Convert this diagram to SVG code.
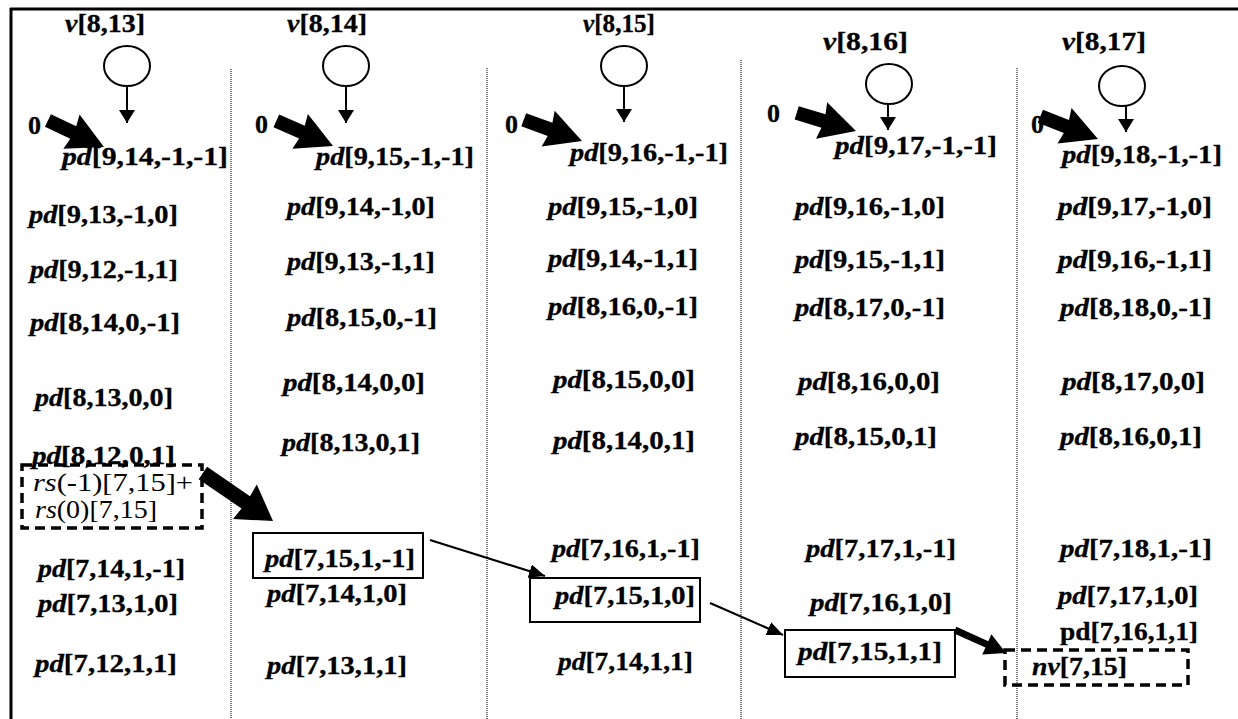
<svg xmlns="http://www.w3.org/2000/svg" xmlns:xlink="http://www.w3.org/1999/xlink" width="1238" height="719" viewBox="0 0 1238 719">
  <style>
    .t { font-family: "Liberation Serif", "Times New Roman", serif; font-size: 26px; font-weight: bold; fill: #000; stroke: #000; stroke-width: 0.3; }
    .i { font-style: italic; }
    .n { font-weight: normal; stroke-width: 0; }
    .sep { stroke: #777; stroke-width: 2; stroke-dasharray: 1 1; fill: none; }
    .frame { stroke: #000; stroke-width: 3; fill: none; }
    .node { fill: none; stroke: #000; stroke-width: 2; }
    .dash { fill: none; stroke: #000; stroke-width: 3.5; stroke-dasharray: 10 6; }
    .down { stroke: #000; stroke-width: 2; fill: none; marker-end: url(#tipDown); }
    .thin { stroke: #000; stroke-width: 2.2; fill: none; marker-end: url(#tip); }
    .fat { fill: #000; }
  </style>
  <defs>
    <marker id="tipDown" markerUnits="userSpaceOnUse" markerWidth="13" markerHeight="16" viewBox="0 0 13 16" refX="13" refY="8" orient="auto">
      <path d="M0,0 L13,8 L0,16 Z" fill="#000"/>
    </marker>
    <marker id="tip" markerUnits="userSpaceOnUse" markerWidth="16" markerHeight="14" viewBox="0 0 16 14" refX="16" refY="7" orient="auto">
      <path d="M0,0 L16,7 L0,14 Z" fill="#000"/>
    </marker>
    <!-- broad arrow pointing along +x, tip at the origin -->
    <path id="fatArrow" d="M-62,-7 L-34,-7 L-36,-19 L0,0 L-36,19 L-34,7 L-62,7 Z"/>
  </defs>

  <rect width="1238" height="719" fill="#fff"/>

  <!-- frame -->
  <path class="frame" d="M10,9 H1238 M11,8 V719"/>

  <!-- column separators -->
  <g id="separators">
    <line class="sep" x1="231" y1="69" x2="231" y2="719"/>
    <line class="sep" x1="487" y1="68" x2="487" y2="719"/>
    <line class="sep" x1="741" y1="60" x2="741" y2="719"/>
    <line class="sep" x1="1017" y1="68" x2="1017" y2="719"/>
  </g>

  <!-- column v[8,13] -->
  <g id="v8_13">
    <text class="t" x="65" y="32" textLength="80" lengthAdjust="spacingAndGlyphs"><tspan class="i">v</tspan>[8,13]</text>
    <ellipse class="node" cx="127" cy="66" rx="23" ry="20"/>
  </g>
  <g id="col13">
    <text class="t" x="28" y="134">0</text>
    <text class="t" x="62" y="165" textLength="166" lengthAdjust="spacingAndGlyphs"><tspan class="i">pd</tspan>[9,14,-1,-1]</text>
    <text class="t" x="29" y="223" textLength="149" lengthAdjust="spacingAndGlyphs"><tspan class="i">pd</tspan>[9,13,-1,0]</text>
    <text class="t" x="30" y="278" textLength="148" lengthAdjust="spacingAndGlyphs"><tspan class="i">pd</tspan>[9,12,-1,1]</text>
    <text class="t" x="30" y="331" textLength="150" lengthAdjust="spacingAndGlyphs"><tspan class="i">pd</tspan>[8,14,0,-1]</text>
    <text class="t" x="35" y="406" textLength="138" lengthAdjust="spacingAndGlyphs"><tspan class="i">pd</tspan>[8,13,0,0]</text>
    <text class="t" x="32" y="464" textLength="143" lengthAdjust="spacingAndGlyphs"><tspan class="i">pd</tspan>[8,12,0,1]</text>
    <text class="t" x="38" y="577" textLength="147" lengthAdjust="spacingAndGlyphs"><tspan class="i">pd</tspan>[7,14,1,-1]</text>
    <text class="t" x="38" y="612" textLength="140" lengthAdjust="spacingAndGlyphs"><tspan class="i">pd</tspan>[7,13,1,0]</text>
    <text class="t" x="35" y="672" textLength="142" lengthAdjust="spacingAndGlyphs"><tspan class="i">pd</tspan>[7,12,1,1]</text>
  </g>
  <g id="rsSum">
    <rect x="22" y="465" width="180" height="63" fill="#fff" class="dash"/>
    <text class="t n" x="33" y="491" textLength="160" lengthAdjust="spacingAndGlyphs"><tspan class="i">rs</tspan>(-1)[7,15]+</text>
    <text class="t n" x="35" y="518" textLength="122" lengthAdjust="spacingAndGlyphs"><tspan class="i">rs</tspan>(0)[7,15]</text>
  </g>

  <!-- column v[8,14] -->
  <g id="v8_14">
    <text class="t" x="287" y="32" textLength="80" lengthAdjust="spacingAndGlyphs"><tspan class="i">v</tspan>[8,14]</text>
    <ellipse class="node" cx="346" cy="66" rx="23" ry="20"/>
  </g>
  <g id="col14">
    <text class="t" x="255" y="133">0</text>
    <text class="t" x="316" y="165" textLength="158" lengthAdjust="spacingAndGlyphs"><tspan class="i">pd</tspan>[9,15,-1,-1]</text>
    <text class="t" x="287" y="215" textLength="148" lengthAdjust="spacingAndGlyphs"><tspan class="i">pd</tspan>[9,14,-1,0]</text>
    <text class="t" x="287" y="270" textLength="148" lengthAdjust="spacingAndGlyphs"><tspan class="i">pd</tspan>[9,13,-1,1]</text>
    <text class="t" x="287" y="326" textLength="150" lengthAdjust="spacingAndGlyphs"><tspan class="i">pd</tspan>[8,15,0,-1]</text>
    <text class="t" x="283" y="391" textLength="142" lengthAdjust="spacingAndGlyphs"><tspan class="i">pd</tspan>[8,14,0,0]</text>
    <text class="t" x="282" y="451" textLength="138" lengthAdjust="spacingAndGlyphs"><tspan class="i">pd</tspan>[8,13,0,1]</text>
    <text class="t" x="267" y="602" textLength="140" lengthAdjust="spacingAndGlyphs"><tspan class="i">pd</tspan>[7,14,1,0]</text>
    <text class="t" x="267" y="674" textLength="140" lengthAdjust="spacingAndGlyphs"><tspan class="i">pd</tspan>[7,13,1,1]</text>
  </g>
  <g id="pd7_15_1_m1">
    <rect class="node" x="253" y="533" width="170" height="45"/>
    <text class="t" x="265" y="567" textLength="150" lengthAdjust="spacingAndGlyphs"><tspan class="i">pd</tspan>[7,15,1,-1]</text>
  </g>

  <!-- column v[8,15] -->
  <g id="v8_15">
    <text class="t" x="583" y="32" textLength="72" lengthAdjust="spacingAndGlyphs"><tspan class="i">v</tspan>[8,15]</text>
    <ellipse class="node" cx="624" cy="66" rx="23" ry="20"/>
  </g>
  <g id="col15">
    <text class="t" x="505" y="133">0</text>
    <text class="t" x="570" y="161" textLength="158" lengthAdjust="spacingAndGlyphs"><tspan class="i">pd</tspan>[9,16,-1,-1]</text>
    <text class="t" x="548" y="215" textLength="150" lengthAdjust="spacingAndGlyphs"><tspan class="i">pd</tspan>[9,15,-1,0]</text>
    <text class="t" x="548" y="267" textLength="150" lengthAdjust="spacingAndGlyphs"><tspan class="i">pd</tspan>[9,14,-1,1]</text>
    <text class="t" x="548" y="315" textLength="150" lengthAdjust="spacingAndGlyphs"><tspan class="i">pd</tspan>[8,16,0,-1]</text>
    <text class="t" x="553" y="388" textLength="142" lengthAdjust="spacingAndGlyphs"><tspan class="i">pd</tspan>[8,15,0,0]</text>
    <text class="t" x="553" y="449" textLength="142" lengthAdjust="spacingAndGlyphs"><tspan class="i">pd</tspan>[8,14,0,1]</text>
    <text class="t" x="552" y="557" textLength="148" lengthAdjust="spacingAndGlyphs"><tspan class="i">pd</tspan>[7,16,1,-1]</text>
    <text class="t" x="558" y="670" textLength="135" lengthAdjust="spacingAndGlyphs"><tspan class="i">pd</tspan>[7,14,1,1]</text>
  </g>
  <g id="pd7_15_1_0">
    <rect class="node" x="530" y="578" width="170" height="44"/>
    <text class="t" x="555" y="604" textLength="140" lengthAdjust="spacingAndGlyphs"><tspan class="i">pd</tspan>[7,15,1,0]</text>
  </g>

  <!-- column v[8,16] -->
  <g id="v8_16">
    <text class="t" x="823" y="50" textLength="85" lengthAdjust="spacingAndGlyphs"><tspan class="i">v</tspan>[8,16]</text>
    <ellipse class="node" cx="889" cy="84" rx="23" ry="20"/>
  </g>
  <g id="col16">
    <text class="t" x="767" y="122">0</text>
    <text class="t" x="835" y="154" textLength="162" lengthAdjust="spacingAndGlyphs"><tspan class="i">pd</tspan>[9,17,-1,-1]</text>
    <text class="t" x="795" y="215" textLength="150" lengthAdjust="spacingAndGlyphs"><tspan class="i">pd</tspan>[9,16,-1,0]</text>
    <text class="t" x="795" y="268" textLength="150" lengthAdjust="spacingAndGlyphs"><tspan class="i">pd</tspan>[9,15,-1,1]</text>
    <text class="t" x="795" y="316" textLength="150" lengthAdjust="spacingAndGlyphs"><tspan class="i">pd</tspan>[8,17,0,-1]</text>
    <text class="t" x="798" y="390" textLength="142" lengthAdjust="spacingAndGlyphs"><tspan class="i">pd</tspan>[8,16,0,0]</text>
    <text class="t" x="795" y="445" textLength="142" lengthAdjust="spacingAndGlyphs"><tspan class="i">pd</tspan>[8,15,0,1]</text>
    <text class="t" x="806" y="557" textLength="150" lengthAdjust="spacingAndGlyphs"><tspan class="i">pd</tspan>[7,17,1,-1]</text>
    <text class="t" x="810" y="611" textLength="142" lengthAdjust="spacingAndGlyphs"><tspan class="i">pd</tspan>[7,16,1,0]</text>
  </g>
  <g id="pd7_15_1_1">
    <rect class="node" x="785" y="630" width="170" height="47"/>
    <text class="t" x="798" y="660" textLength="144" lengthAdjust="spacingAndGlyphs"><tspan class="i">pd</tspan>[7,15,1,1]</text>
  </g>

  <!-- column v[8,17] -->
  <g id="v8_17">
    <text class="t" x="1062" y="50" textLength="84" lengthAdjust="spacingAndGlyphs"><tspan class="i">v</tspan>[8,17]</text>
    <ellipse class="node" cx="1122" cy="86" rx="23" ry="20"/>
  </g>
  <g id="col17">
    <text class="t" x="1031" y="133">0</text>
    <text class="t" x="1062" y="163" textLength="160" lengthAdjust="spacingAndGlyphs"><tspan class="i">pd</tspan>[9,18,-1,-1]</text>
    <text class="t" x="1058" y="215" textLength="154" lengthAdjust="spacingAndGlyphs"><tspan class="i">pd</tspan>[9,17,-1,0]</text>
    <text class="t" x="1058" y="268" textLength="154" lengthAdjust="spacingAndGlyphs"><tspan class="i">pd</tspan>[9,16,-1,1]</text>
    <text class="t" x="1060" y="316" textLength="152" lengthAdjust="spacingAndGlyphs"><tspan class="i">pd</tspan>[8,18,0,-1]</text>
    <text class="t" x="1062" y="390" textLength="143" lengthAdjust="spacingAndGlyphs"><tspan class="i">pd</tspan>[8,17,0,0]</text>
    <text class="t" x="1060" y="445" textLength="142" lengthAdjust="spacingAndGlyphs"><tspan class="i">pd</tspan>[8,16,0,1]</text>
    <text class="t" x="1060" y="557" textLength="152" lengthAdjust="spacingAndGlyphs"><tspan class="i">pd</tspan>[7,18,1,-1]</text>
    <text class="t" x="1058" y="604" textLength="140" lengthAdjust="spacingAndGlyphs"><tspan class="i">pd</tspan>[7,17,1,0]</text>
    <text class="t" x="1060" y="640" textLength="138" lengthAdjust="spacingAndGlyphs">pd[7,16,1,1]</text>
  </g>
  <g id="nv7_15">
    <rect class="dash" x="1005" y="650" width="183" height="35"/>
    <text class="t" x="1032" y="675" textLength="95" lengthAdjust="spacingAndGlyphs"><tspan class="i">nv</tspan>[7,15]</text>
  </g>

  <!-- connectors -->
  <g id="connectors">
    <line class="down" x1="127" y1="86" x2="127" y2="123"/>
    <line class="down" x1="346" y1="86" x2="346" y2="123"/>
    <line class="down" x1="624" y1="86" x2="624" y2="122"/>
    <line class="down" x1="888" y1="104" x2="888" y2="130"/>
    <line class="down" x1="1126" y1="106" x2="1126" y2="132"/>

    <use class="fat" xlink:href="#fatArrow" transform="translate(104,147) rotate(25.3)"/>
    <use class="fat" xlink:href="#fatArrow" transform="translate(333,146) rotate(24)"/>
    <use class="fat" xlink:href="#fatArrow" transform="translate(582,141) rotate(20)"/>
    <use class="fat" xlink:href="#fatArrow" transform="translate(856,131) rotate(17)"/>
    <use class="fat" xlink:href="#fatArrow" transform="translate(1098,139) rotate(21.6)"/>

    <path class="fat" transform="translate(273,521) rotate(34.4)" d="M-85,-7.5 L-33,-7.5 L-34,-21 L0,0 L-34,21 L-33,7.5 L-85,7.5 Z"/>
    <line class="thin" x1="430" y1="540" x2="545" y2="576"/>
    <line class="thin" x1="710" y1="603" x2="783" y2="635"/>
    <path class="fat" transform="translate(1006,653) rotate(24.3)" d="M-56,-3.5 L-21,-3.5 L-21,-11 L0,0 L-21,11 L-21,3.5 L-56,3.5 Z"/>
  </g>
</svg>
